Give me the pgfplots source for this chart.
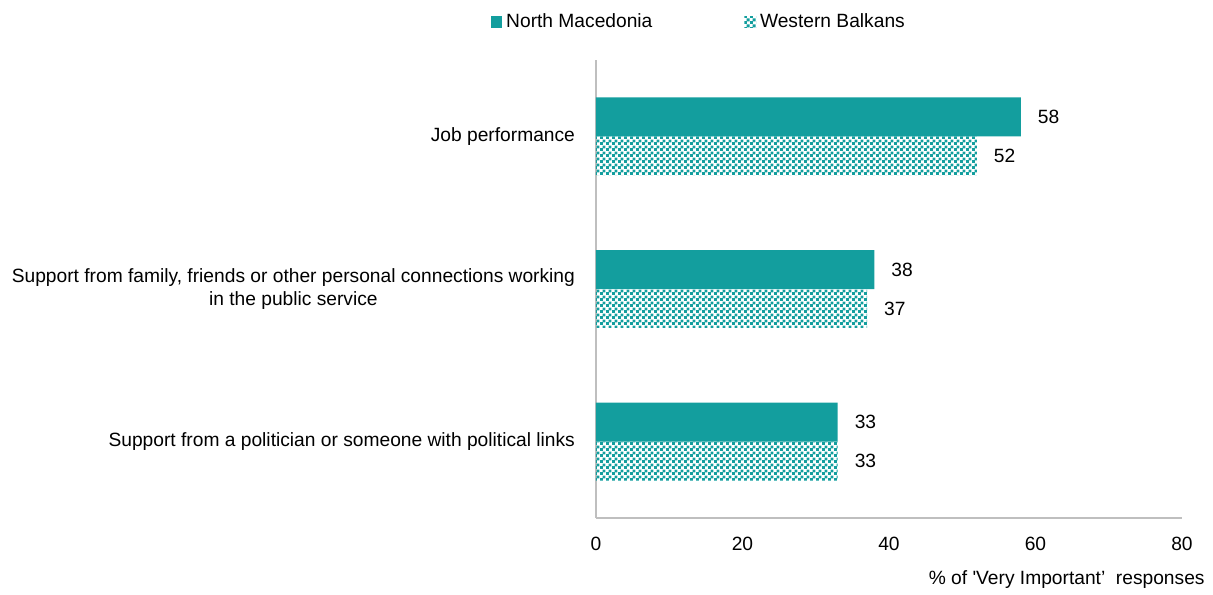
\documentclass[border=0pt]{standalone}
\usepackage{fontspec}
\setmainfont{Liberation Sans}
\usepackage{pgfplots}
\pgfplotsset{compat=1.18}
\usetikzlibrary{patterns}
\definecolor{teal1}{HTML}{139E9E}
\definecolor{axgray}{HTML}{BFBFBF}
\pgfdeclarepatternformonly{checker}{\pgfpointorigin}{\pgfqpoint{3pt}{3pt}}{\pgfqpoint{3pt}{3pt}}{%
  \pgfpathrectangle{\pgfpointorigin}{\pgfqpoint{1.6pt}{1.6pt}}%
  \pgfpathrectangle{\pgfqpoint{1.5pt}{1.5pt}}{\pgfqpoint{1.6pt}{1.6pt}}%
  \pgfusepath{fill}}
\begin{document}
\begin{tikzpicture}
\begin{axis}[
  scale only axis, width=293pt, height=229pt,
  xbar, xmin=0, xmax=80, ymin=-0.5, ymax=2.5,
  bar width=0.255,
  xtick={0,20,40,60,80}, ytick={0,1,2},
  yticklabels={{Support from a politician or someone with political links},
               {Support from family, friends or other personal connections working\\in the public service},
               {Job performance}},
  font=\fontsize{9.6}{11.6}\selectfont,
  tick label style={font=\fontsize{9.6}{11.6}\selectfont},
  yticklabel style={align=center, xshift=-7pt},
  xticklabel style={yshift=-6pt},
  /pgf/number format/assume math mode=true,
  major tick length=0pt,
  axis x line*=bottom, axis y line*=left,
  axis line style={axgray, line width=0.75pt},
  nodes near coords,
  nodes near coords style={font=\fontsize{9.6}{11.6}\selectfont, xshift=5pt, black},
  xlabel={\% of \textquotesingle Very Important'\ \ responses},
  xlabel style={at={(axis description cs:1,0)}, anchor=east, xshift=11.5pt, yshift=-31pt, inner sep=0pt},
  legend style={at={(axis description cs:0.177,1.083)}, anchor=center, draw=none, fill=none,
    legend columns=2, font=\fontsize{9.6}{11.6}\selectfont,
    /tikz/every even column/.append style={column sep=44pt}},
  legend image code/.code={\fill[#1] (0pt,-2.9pt) rectangle (5.8pt,2.9pt);},
]
\addplot[draw=none, fill=teal1, bar shift=0.1275] coordinates {(58,2) (38,1) (33,0)};
\addplot[draw=none, pattern=checker, pattern color=teal1, bar shift=-0.1275] coordinates {(52,2) (37,1) (33,0)};
\legend{North Macedonia, Western Balkans}
\end{axis}
\pgfresetboundingbox
\path[use as bounding box] ([xshift=-298pt,yshift=-38pt]current axis.south west) rectangle ([xshift=15.5pt,yshift=30pt]current axis.north east);
\end{tikzpicture}
\end{document}
